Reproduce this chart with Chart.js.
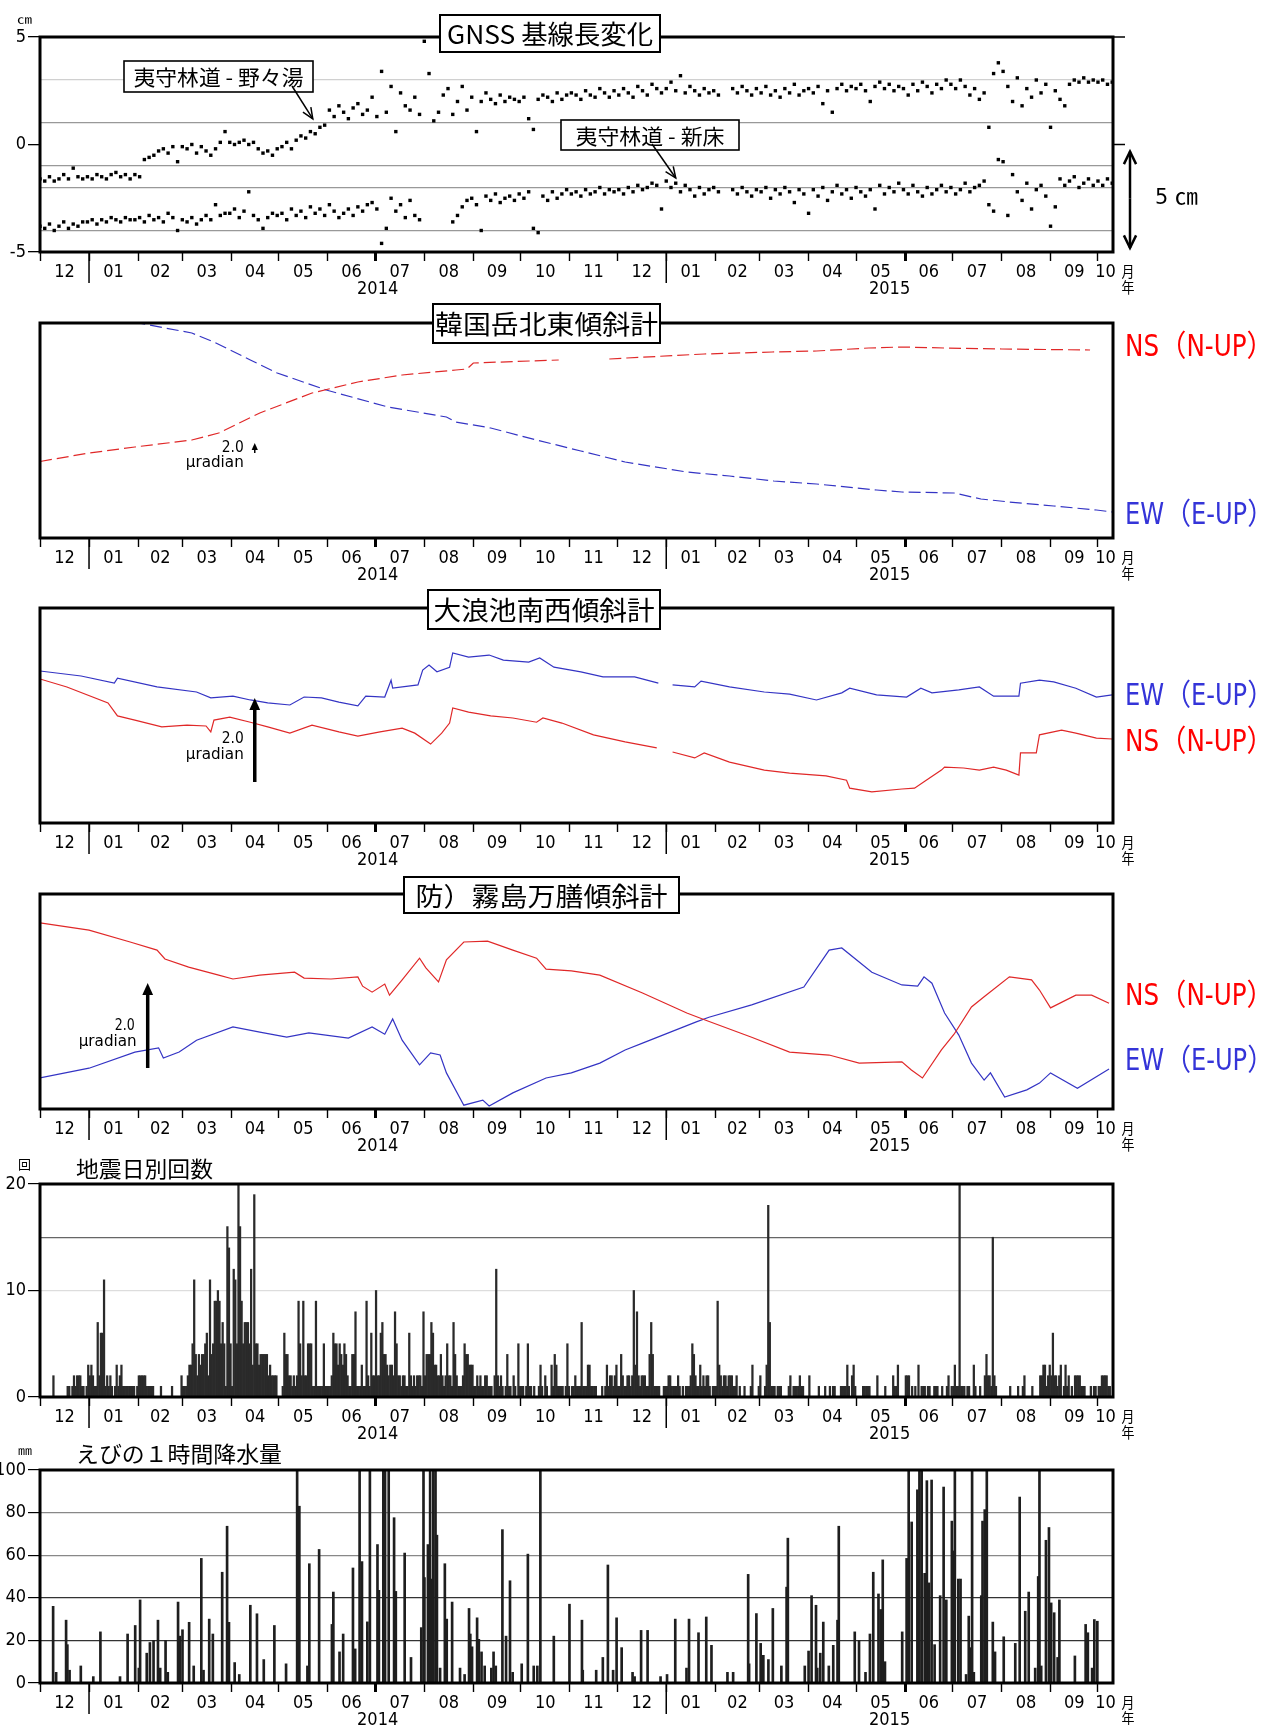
<!DOCTYPE html>
<html lang="ja">
<head>
<meta charset="utf-8">
<title>霧島山 観測データ</title>
<script src="https://cdn.jsdelivr.net/npm/chart.js@4.4.1/dist/chart.umd.min.js"></script>
<style>
  html, body { margin: 0; padding: 0; background: #fff; }
  body { position: relative; width: 1277px; height: 1725px; overflow: hidden; }
  canvas { position: absolute; left: 0; }
</style>
</head>
<body>
<canvas id="gnss" width="1277" height="300" style="top:0px"></canvas>
<canvas id="karakuni" width="1277" height="300" style="top:286px"></canvas>
<canvas id="onami" width="1277" height="300" style="top:571px"></canvas>
<canvas id="manzen" width="1277" height="300" style="top:857px"></canvas>
<canvas id="quake" width="1277" height="300" style="top:1147px"></canvas>
<canvas id="rain" width="1277" height="292" style="top:1433px"></canvas>
<script>
const NARROW = "'Liberation Sans Narrow', 'DejaVu Sans Condensed', 'Liberation Sans', 'Noto Sans CJK JP', sans-serif";
const CJK = "'Noto Sans CJK JP', 'Noto Sans CJK SC', sans-serif";
const RED = '#e02828';
const BLUE = '#3434c4';

// ---- x axis (days counted from 2013-12-01)
const monthLabels = ['12', '01', '02', '03', '04', '05', '06', '07', '08', '09', '10', '11',
                     '12', '01', '02', '03', '04', '05', '06', '07', '08', '09', '10'];
const yearLabels = ['2014', '2015'];
const axisEndDay = 678.5;

// ---- GNSS baseline length (cm), one reading every 3 days from 2013-12-01
const gnssStep = 3;
const nonoyu = [
  -1.6, -1.7, -1.5, -1.7, -1.6, -1.4, -1.6, -1.1, -1.5, -1.6,
  -1.5, -1.6, -1.4, -1.5, -1.6, -1.4, -1.3, -1.5, -1.4, -1.6,
  -1.4, -1.5, -0.7, -0.6, -0.5, -0.3, -0.2, -0.4, -0.1, -0.8,
  -0.1, -0.2, 0.0, -0.4, -0.1, -0.3, -0.5, -0.2, 0.1, 0.6,
  0.1, 0.0, 0.1, 0.2, 0.0, 0.1, -0.2, -0.4, -0.3, -0.5,
  -0.2, -0.1, 0.1, -0.2, 0.2, 0.4, 0.3, 0.6, 0.5, 0.8,
  0.9, 1.6, 1.3, 1.8, 1.5, 1.2, 1.7, 1.9, 1.4, 1.6,
  2.2, 1.3, 3.4, 1.5, 2.7, 0.6, 2.4, 1.8, 1.6, 2.2, 1.4,
  4.8, 3.3, 1.1, 1.5, 2.3, 2.6, 1.4, 2.0, 2.7, 1.6,
  2.2, 0.6, 2.0, 2.4, 2.1, 1.9, 2.3, 2.0, 2.2, 2.1,
  2.0, 2.2, 1.2, 0.7, 2.1, 2.3, 2.2, 2.0, 2.4, 2.1, 2.3,
  2.4, 2.3, 2.1, 2.5, 2.3, 2.2, 2.6, 2.4, 2.2, 2.5,
  2.3, 2.6, 2.4, 2.2, 2.7, 2.5, 2.3, 2.8, 2.6, 2.4,
  2.6, 2.9, 2.5, 3.2, 2.4, 2.7, 2.5, 2.3, 2.6, 2.4,
  2.5, 2.3, null, null, 2.6, 2.4, 2.7, 2.5, 2.3, 2.6,
  2.4, 2.7, 2.3, 2.5, 2.2, 2.6, 2.4, 2.8, 2.3, 2.5,
  2.6, 2.4, 2.7, 1.9, 2.5, 1.5, 2.6, 2.8, 2.5, 2.7,
  2.6, 2.8, 2.5, 2.0, 2.7, 2.9, 2.6, 2.8, 2.5, 2.7,
  2.6, 2.3, 2.8, 2.5, 2.9, 2.7, 2.4, 2.8, 2.6, 3.0,
  2.8, 2.6, 3.0, 2.7, 2.3, 2.6, 2.1, 2.4, 0.8, 3.3, 3.8,
  3.4, 2.7, 2.0, 3.1, 1.8, 2.6, 2.2, 3.0, 2.4, 2.8,
  0.8, 2.5, 2.1, 1.8, 2.8, 3.0, 2.9, 3.1, 2.9, 3.0,
  2.9, 3.0, 2.8, 2.9
];
const niidoko = [
  -3.8, -3.9, -3.7, -4.0, -3.8, -3.6, -3.9, -3.7, -3.8, -3.6,
  -3.6, -3.5, -3.7, -3.5, -3.6, -3.4, -3.5, -3.6, -3.4, -3.5,
  -3.5, -3.4, -3.6, -3.3, -3.5, -3.4, -3.6, -3.2, -3.4, -4.0,
  -3.5, -3.6, -3.4, -3.7, -3.5, -3.3, -3.5, -2.8, -3.3, -3.2,
  -3.2, -3.0, -3.4, -3.1, -2.2, -3.3, -3.5, -3.9, -3.4, -3.2,
  -3.3, -3.2, -3.5, -3.0, -3.3, -3.1, -3.4, -2.9, -3.2, -3.0,
  -3.3, -2.8, -3.1, -3.4, -3.2, -3.0, -3.3, -2.9, -3.1, -2.8,
  -2.7, -3.0, -4.6, -3.9, -2.5, -3.1, -2.8, -3.4, -2.6, -3.3, -3.5,
  null, null, null, null, null, null, -3.6, -3.3, -2.9, -2.6,
  -2.5, -2.8, -4.0, -2.4, -2.6, -2.3, -2.7, -2.5, -2.4, -2.6,
  -2.3, -2.5, -2.2, -3.9, -4.1, -2.4, -2.6, -2.2, -2.5, -2.3, -2.1,
  -2.3, -2.2, -2.4, -2.1, -2.3, -2.2, -2.0, -2.3, -2.1, -2.2,
  -2.1, -2.3, -2.0, -2.2, -1.9, -2.1, -2.0, -1.8, -1.9, -3.0,
  -1.7, -2.0, -1.8, -2.2, -1.9, -2.1, -2.4, -2.0, -2.3, -2.1,
  -2.0, -2.2, null, null, -2.1, -2.3, -2.0, -2.2, -2.4, -2.1,
  -2.2, -2.0, -2.5, -2.1, -2.3, -2.0, -2.2, -2.7, -2.1, -2.3,
  -3.2, -2.1, -2.4, -2.0, -2.6, -2.2, -1.9, -2.3, -2.1, -2.5,
  -2.0, -2.2, -2.4, -2.1, -3.0, -1.9, -2.3, -2.0, -2.2, -1.8,
  -2.1, -2.3, -1.9, -2.2, -2.4, -2.0, -2.3, -2.1, -1.9, -2.2,
  -2.0, -2.3, -2.1, -1.8, -2.2, -2.0, -1.9, -1.7, -2.8, -3.1, -0.7,
  -0.8, -3.3, -1.4, -2.2, -2.6, -1.8, -3.0, -2.1, -1.9, -2.4,
  -3.8, -2.9, -1.6, -1.9, -1.7, -1.5, -2.0, -1.8, -1.6, -1.9,
  -1.7, -1.9, -1.6, -1.8
];
const gnssGridLines = [3, 1, -1, -2, -4];
const gnssTickLabels = [-5, 0, 5];

// ---- 韓国岳北東傾斜計 (μradian, arbitrary origin)
const karakuniNsDays = [0, 31, 60, 96, 113, 139, 172, 201, 229, 263, 270, 274, 328, 344, 360, 371, 420, 463, 491, 524, 545, 572, 608, 664];
const karakuniNsVals = [15.3, 17.0, 18.2, 19.6, 21.0, 25.0, 29.0, 31.2, 32.6, 33.6, 33.8, 35.0, 35.6, null, 35.8, 36.0, 36.8, 37.2, 37.4, 38.0, 38.2, 38.0, 37.8, 37.6];
const karakuniEwDays = [40, 64, 96, 110, 133, 150, 181, 220, 257, 263, 285, 314, 342, 370, 409, 436, 464, 491, 529, 545, 578, 595, 613, 641, 668, 678];
const karakuniEwVals = [46.5, 42.9, 41.0, 39.2, 35.6, 33.0, 29.6, 26.2, 24.2, 23.2, 22.0, 19.6, 17.4, 15.2, 13.2, 12.4, 11.4, 10.8, 9.6, 9.2, 9.0, 7.8, 7.2, 6.4, 5.6, 5.2];

// ---- 大浪池南西傾斜計
const onamiEwDays = [0, 26, 47, 49, 74, 99, 108, 122, 133, 144, 158, 167, 178, 189, 201, 206, 218, 222, 223, 239,
  242, 246, 251, 259, 261, 271, 284, 293, 309, 316, 325, 342, 356, 376, 391, 395, 400, 414, 418, 436,
  458, 474, 491, 507, 512, 529, 548, 557, 564, 581, 594, 603, 619, 620, 632, 641, 655, 668, 678];
const onamiEwVals = [3.62, 3.50, 3.33, 3.45, 3.24, 3.12, 2.98, 3.02, 2.93, 2.86, 2.81, 3.00, 2.98, 2.88, 2.79, 3.02, 3.00, 3.40, 3.21, 3.29,
  3.64, 3.76, 3.60, 3.71, 4.05, 3.95, 4.00, 3.88, 3.83, 3.93, 3.71, 3.60, 3.48, 3.48, 3.33, null, 3.29, 3.24, 3.38, 3.24,
  3.12, 3.07, 2.93, 3.10, 3.21, 3.05, 3.00, 3.21, 3.10, 3.17, 3.24, 3.02, 3.02, 3.33, 3.40, 3.36, 3.21, 3.00, 3.05];
const onamiNsDays = [0, 17, 43, 49, 60, 77, 93, 105, 108, 110, 120, 133, 144, 158, 172, 189, 201, 215, 229, 237,
  247, 254, 259, 261, 271, 285, 299, 314, 318, 330, 350, 370, 390, 395, 400, 414, 420, 436, 458, 474,
  497, 510, 512, 526, 545, 553, 559, 570, 572, 584, 594, 603, 611, 619, 620, 630, 632, 646, 655, 668, 678];
const onamiNsVals = [3.43, 3.24, 2.86, 2.55, 2.45, 2.29, 2.33, 2.31, 2.17, 2.45, 2.52, 2.40, 2.29, 2.14, 2.33, 2.17, 2.07, 2.17, 2.26, 2.14,
  1.88, 2.14, 2.38, 2.74, 2.64, 2.55, 2.50, 2.40, 2.50, 2.38, 2.10, 1.93, 1.79, null, 1.69, 1.55, 1.67, 1.45, 1.26, 1.19,
  1.12, 1.02, 0.83, 0.74, 0.81, 0.83, 0.98, 1.26, 1.33, 1.31, 1.26, 1.33, 1.26, 1.14, 1.67, 1.67, 2.10, 2.21, 2.14, 2.02, 2.00];

// ---- 防）霧島万膳傾斜計
const manzenNsDays = [0, 31, 57, 74, 79, 94, 113, 122, 139, 161, 167, 184, 201, 204, 210, 218, 221, 229, 240, 244,
  252, 257, 268, 283, 299, 314, 320, 336, 354, 381, 409, 421, 450, 474, 499, 518, 545, 551, 558, 570,
  578, 589, 597, 613, 627, 632, 639, 655, 665, 676];
const manzenNsVals = [4.38, 4.21, 3.93, 3.74, 3.53, 3.34, 3.15, 3.06, 3.15, 3.22, 3.08, 3.06, 3.11, 2.89, 2.75, 2.94, 2.68, 3.04, 3.55, 3.32,
  2.99, 3.51, 3.93, 3.95, 3.74, 3.55, 3.29, 3.25, 3.15, 2.73, 2.26, 2.09, 1.69, 1.34, 1.27, 1.08, 1.11, 0.92, 0.73, 1.39,
  1.76, 2.40, 2.64, 3.11, 3.04, 2.80, 2.38, 2.68, 2.68, 2.49];
const manzenEwDays = [0, 31, 60, 75, 78, 88, 99, 122, 139, 156, 170, 195, 210, 218, 223, 229, 240, 247, 253, 257,
  268, 280, 284, 299, 320, 336, 354, 370, 381, 415, 423, 450, 483, 499, 507, 526, 545, 555, 559, 564,
  572, 581, 589, 597, 601, 610, 624, 632, 639, 656, 676];
const manzenEwVals = [0.73, 0.96, 1.34, 1.44, 1.20, 1.34, 1.62, 1.93, 1.81, 1.69, 1.79, 1.67, 1.93, 1.76, 2.12, 1.62, 1.04, 1.32, 1.27, 0.85,
  0.09, 0.21, 0.07, 0.38, 0.73, 0.85, 1.08, 1.39, 1.55, 2.05, 2.16, 2.45, 2.87, 3.74, 3.79, 3.22, 2.92, 2.89, 3.11, 2.96,
  2.26, 1.74, 1.08, 0.68, 0.85, 0.28, 0.45, 0.61, 0.85, 0.49, 0.94];

// ---- 地震日別回数 (daily count, one value per day from 2013-12-01)
const quakeCounts = [
  0,0,0,0,0,0,0,0,2,0, 0,0,0,0,0,0,0,1,1,0, 1,2,1,2,2,2,1,1,0,1, 3,          // 2013-12
  2,3,2,1,1,7,2,6,6,11, 1,2,1,2,1,0,1,3,1,2, 3,1,1,1,1,1,1,1,1,0, 1,        // 01
  2,2,2,2,2,1,1,1,1,1, 0,0,0,0,1,0,0,0,0,0, 0,1,0,0,0,0,0,2,                // 02
  1,1,1,2,3,3,5,11,4,2, 4,3,4,4,5,6,2,11,4,5, 9,9,10,9,5,7,5,1,16,14, 5,    // 03
  1,12,11,5,22,16,9,5,7,7, 7,5,12,3,19,5,5,3,4,4, 4,4,4,2,3,2,2,2,2,0,      // 04
  0,0,1,6,4,4,2,2,1,2, 1,2,9,5,2,9,2,2,5,5, 5,1,1,9,1,1,1,1,5,1, 1,         // 05
  1,1,2,6,5,5,3,5,4,3, 5,4,2,1,1,4,4,8,1,1, 1,3,1,1,9,2,1,6,2,2,            // 06
  10,2,2,6,7,4,4,3,2,3, 3,2,8,5,2,2,1,2,2,1, 1,6,2,1,2,1,2,2,2,1, 8,        // 07
  2,4,4,4,7,6,3,3,2,2, 4,2,1,2,5,2,2,1,7,4, 2,1,1,1,2,5,4,4,3,3, 3,         // 08
  1,1,2,1,2,1,1,2,2,1, 1,1,0,2,12,2,1,2,1,0, 1,4,1,1,0,2,1,0,5,1,           // 09
  1,1,0,1,5,1,1,0,1,0, 0,1,3,1,0,2,1,0,0,3, 1,4,3,1,1,1,1,0,1,5, 1,         // 10
  0,1,1,2,1,1,1,7,1,1, 1,3,3,1,1,1,1,0,0,0, 1,0,1,3,1,2,2,1,2,3,            // 11
  1,1,4,2,1,1,2,2,1,2, 10,3,8,2,1,2,2,2,1,1, 4,7,4,1,1,1,1,0,0,1, 1,        // 12
  1,2,2,1,1,1,1,2,1,0, 1,0,1,1,1,2,5,4,2,1, 1,3,1,2,1,2,2,1,0,1, 1,         // 2015-01
  1,9,3,2,1,2,2,1,2,2, 2,1,1,2,0,1,0,0,1,0, 0,0,1,3,0,0,0,1,                // 02
  2,0,0,1,3,18,7,1,1,1, 0,1,1,1,0,0,0,0,1,2, 0,1,1,1,1,2,1,1,0,0, 0,        // 03
  2,0,0,0,0,0,1,0,0,0, 1,0,0,1,0,1,1,0,0,0, 1,1,1,1,3,1,0,2,3,1,            // 04
  0,0,0,0,1,1,1,1,1,0, 0,0,0,2,0,0,0,0,1,0, 0,0,0,2,1,1,3,0,0,0, 0,         // 05
  2,2,2,0,1,0,1,0,3,0, 1,1,1,0,1,1,0,0,1,1, 1,0,0,1,0,0,1,2,0,1,            // 06
  1,3,1,1,22,1,1,1,0,1, 1,0,0,3,1,0,0,1,0,0, 2,4,2,2,1,15,2,1,0,0, 0,       // 07
  0,0,0,0,0,1,0,0,0,0, 1,0,0,1,2,0,0,0,0,1, 0,0,0,0,2,2,3,3,1,2, 3,         // 08
  2,6,2,2,1,2,3,0,1,3, 1,2,0,1,0,2,2,2,2,1, 1,1,0,0,0,1,0,1,1,0,            // 09
  1,1,2,2,2,2,1,1,0,0                                                      // 10
];

// ---- えびの 1時間降水量 (mm); day of each hourly reading, counted from 2013-12-01
const rainDays = [
  8.3, 10.2, 16.5, 17.3, 18.7, 25.8, 33.7, 38.2, 50.6, 55.4,
  60.2, 62.5, 63.3, 67.5, 69.5, 71.8, 74.6, 76.0, 79.4, 80.8,
  87.3, 88.4, 90.1, 94.3, 97.2, 102.0, 103.4, 107.0, 109.3, 115.2,
  118.3, 119.5, 123.1, 126.0, 133.0, 137.2, 141.5, 148.2, 155.6, 162.6,
  164.0, 169.1, 170.3, 176.5, 184.6, 185.5, 189.4, 191.7, 197.9, 199.3,
  202.1, 203.6, 207.0, 208.6, 213.4, 214.3, 217.1, 218.2, 220.5, 223.9,
  225.0, 230.6, 234.6, 241.1, 242.5, 243.1, 245.3, 246.7, 247.3, 248.7,
  250.1, 251.0, 253.0, 256.0, 257.2, 260.6, 265.6, 268.5, 271.3, 272.1,
  273.2, 276.4, 277.5, 279.2, 281.2, 285.4, 286.8, 288.2, 292.4, 294.7,
  297.2, 298.9, 304.6, 308.5, 312.2, 314.5, 316.4, 324.9, 334.8, 342.7,
  343.2, 351.7, 355.9, 359.1, 362.4, 364.6, 367.8, 374.7, 376.0, 380.1,
  384.2, 392.4, 396.5, 401.7, 408.8, 410.4, 416.4, 421.3, 424.6, 434.7,
  438.3, 447.8, 448.4, 453.0, 455.7, 457.4, 460.6, 463.4, 468.8, 472.1,
  472.9, 483.6, 486.0, 487.9, 490.7, 491.5, 493.4, 495.3, 498.8, 501.6,
  504.3, 505.1, 515.2, 517.9, 522.0, 524.8, 526.9, 530.2, 531.6, 532.9,
  534.3, 545.2, 548.0, 549.3, 551.2, 554.8, 555.6, 556.1, 557.5, 559.4,
  560.8, 562.1, 563.8, 565.7, 569.2, 571.4, 573.1, 576.6, 577.4, 578.5,
  580.7, 582.1, 585.6, 587.3, 588.3, 589.4, 590.5, 595.2, 596.0, 597.4,
  598.7, 602.5, 603.9, 609.4, 616.7, 619.5, 623.0, 625.2, 629.3, 631.2,
  632.0, 633.1, 636.1, 638.0, 639.4, 641.3, 643.5, 644.6, 654.4, 661.2,
  662.6, 665.3, 666.7, 668.6
];
const rainMm = [
  36, 5, 29.5, 18, 6, 8, 3, 24, 3, 23,
  27, 7, 39, 14, 19, 20, 29.5, 7, 20, 5,
  38, 22, 25, 28.5, 8, 58.5, 6, 30, 23, 52,
  73.6, 28.5, 9.6, 4, 36.5, 32.5, 11, 27, 9, 110,
  83, 8, 56, 62.7, 27.5, 42.7, 14.6, 23, 54, 16,
  110, 57, 28.7, 110, 65, 43.5, 110, 110, 110, 77.6,
  43, 61, 12, 26, 110, 49.5, 65, 110, 48.8, 110,
  110, 69.4, 7, 56, 30, 38, 7, 4, 35, 23,
  17, 30.6, 20.5, 14.6, 8, 7, 14.6, 8, 72, 22,
  48, 5, 9, 60.5, 8, 8, 110, 22, 37, 29.5,
  6, 6, 12, 55.4, 6, 30.6, 16.6, 5, 3, 24.7,
  24.7, 3, 4, 30, 7, 30, 23.6, 31, 17.7, 5,
  5, 51, 9, 32.6, 18.6, 13, 11, 35, 8, 45,
  68, 8, 15, 41, 36.5, 7, 14, 28.6, 8, 17.7,
  29.5, 73.6, 24, 20, 5, 23, 52, 41.8, 34.5, 57.8,
  10, 24, 58.5, 110, 75.6, 90.7, 57.8, 110, 110, 51.5,
  95, 47, 95.3, 18, 41, 92, 39, 76, 62, 110,
  48.8, 48.8, 4, 31.4, 16.6, 110, 5, 41, 76, 81.4,
  110, 28.6, 14.6, 21.7, 18.6, 87.3, 33.7, 42.7, 7, 50,
  110, 8, 67, 73, 37.6, 33, 12, 39, 12.7, 27.5,
  23.6, 7, 29.8, 29
];

// ---------------------------------------------------------------- layout
const PLOT_LEFT = 40, PLOT_RIGHT = 1113, PAD_TOP = 37;

const T0 = Date.UTC(2013, 11, 1);
const toDay = (y, m, d) => (Date.UTC(y, m, d) - T0) / 864e5;
const monthStarts = monthLabels.map((_, i) => toDay(2013, 11 + i, 1));
const yearCenters = yearLabels.map(y => {
  const a = Math.max(0, toDay(+y, 0, 1));
  const b = Math.min(axisEndDay, toDay(+y + 1, 0, 1));
  return (a + b) / 2;
});
const boldStarts = yearCenters.map(c =>
  monthStarts.reduce((best, d) => Math.abs(d - c) < Math.abs(best - c) ? d : best, monthStarts[0]));
const januaryStarts = monthStarts.filter((d, i) => monthLabels[i] === '01');

function buildXTicks() {
  const t = [];
  monthStarts.forEach((d, i) => {
    t.push({ value: d, kind: 'b', bold: boldStarts.includes(d), lab: '' });
    const end = Math.min(i + 1 < monthStarts.length ? monthStarts[i + 1] : axisEndDay, axisEndDay);
    t.push({ value: (d + end) / 2, kind: 'm', lab: monthLabels[i] });
  });
  yearLabels.forEach((y, i) => t.push({ value: yearCenters[i], kind: 'y', lab: ['', y] }));
  return t.sort((a, b) => a.value - b.value);
}

function xAxis(height) {
  return {
    type: 'linear', min: 0, max: axisEndDay, offset: false,
    afterBuildTicks: s => { s.ticks = buildXTicks(); },
    afterFit: s => { s.height = height; },
    border: { display: false },
    grid: {
      offset: false, drawOnChartArea: false, drawTicks: true, tickLength: 9,
      tickColor: c => (c.tick && c.tick.kind === 'b') ? '#000' : 'rgba(0,0,0,0)',
      tickWidth: c => (c.tick && c.tick.bold) ? 3 : 1.4
    },
    ticks: {
      autoSkip: false, maxRotation: 0, minRotation: 0, padding: 3, color: '#000',
      font: { family: NARROW, size: 18, lineHeight: 0.95 },
      callback: (v, i, t) => t[i].lab
    }
  };
}

function pts(days, vals) { return days.map((d, i) => ({ x: d, y: vals[i] })); }

// ---------------------------------------------------------------- drawing helpers
function fitText(ctx, text, x, y, w, px, family, color, align) {
  ctx.save();
  ctx.font = px + 'px ' + family;
  ctx.fillStyle = color;
  ctx.textBaseline = 'middle';
  ctx.textAlign = align || 'left';
  const s = w / ctx.measureText(text).width;
  ctx.translate(x, y);
  ctx.scale(s, 1);
  ctx.fillText(text, 0, 0);
  ctx.restore();
}

function textBox(ctx, text, x0, y0, x1, y1, textW, px, lw) {
  ctx.save();
  ctx.fillStyle = '#fff';
  ctx.fillRect(x0, y0, x1 - x0, y1 - y0);
  ctx.strokeStyle = '#000';
  ctx.lineWidth = lw;
  ctx.strokeRect(x0, y0, x1 - x0, y1 - y0);
  ctx.restore();
  fitText(ctx, text, (x0 + x1) / 2, (y0 + y1) / 2 + 1, textW, px, CJK, '#000', 'center');
}

function arrowTo(ctx, x0, y0, x1, y1, head, spread, filled) {
  const ang = Math.atan2(y1 - y0, x1 - x0);
  ctx.beginPath(); ctx.moveTo(x0, y0); ctx.lineTo(x1, y1); ctx.stroke();
  const a1 = ang + Math.PI - spread, a2 = ang + Math.PI + spread;
  ctx.beginPath();
  ctx.moveTo(x1 + head * Math.cos(a1), y1 + head * Math.sin(a1));
  ctx.lineTo(x1, y1);
  ctx.lineTo(x1 + head * Math.cos(a2), y1 + head * Math.sin(a2));
  if (filled) { ctx.closePath(); ctx.fill(); } else { ctx.stroke(); }
}

function commonDecor(chart) {
  const ctx = chart.ctx, a = chart.chartArea, x = chart.scales.x;
  ctx.save();
  ctx.strokeStyle = '#000';
  ctx.lineWidth = 3;
  ctx.strokeRect(a.left, a.top, a.right - a.left, a.bottom - a.top);
  ctx.lineWidth = 1.5;
  januaryStarts.forEach(d => {
    const px = x.getPixelForValue(d);
    ctx.beginPath(); ctx.moveTo(px, a.bottom); ctx.lineTo(px, a.bottom + 31); ctx.stroke();
  });
  ctx.restore();
  fitText(ctx, '月', 1128, a.bottom + 19, 13, 15, CJK, '#000', 'center');
  fitText(ctx, '年', 1128, a.bottom + 35, 13, 15, CJK, '#000', 'center');
}

function scaleArrow(chart, d, v0, v1, style) {
  const ctx = chart.ctx, x = chart.scales.x, y = chart.scales.y;
  const px = x.getPixelForValue(d), yb = y.getPixelForValue(v0), yt = y.getPixelForValue(v1);
  ctx.save();
  ctx.strokeStyle = '#000';
  ctx.fillStyle = '#000';
  ctx.lineWidth = style.lw;
  ctx.beginPath(); ctx.moveTo(px, yb); ctx.lineTo(px, yt + style.head * 0.6); ctx.stroke();
  ctx.beginPath();
  ctx.moveTo(px, yt);
  ctx.lineTo(px - style.head * 0.45, yt + style.head);
  ctx.lineTo(px + style.head * 0.45, yt + style.head);
  ctx.closePath(); ctx.fill();
  ctx.restore();
  fitText(ctx, '2.0', style.textRight(px), yt + style.dy1, style.w1, 15, NARROW, '#000', 'right');
  fitText(ctx, 'μradian', style.textRight(px) + style.dx2, yt + style.dy2, 58, 15, NARROW, '#000', 'right');
}

function sideLabel(ctx, text, yCenter, color) {
  fitText(ctx, text, 1125, yCenter, 149, 30, NARROW, color, 'left');
}

function makeChart(id, top, plotH, type, datasets, yScale, extras) {
  const canvas = document.getElementById(id);
  return new Chart(canvas, {
    type,
    data: { datasets },
    options: {
      responsive: false, animation: false, devicePixelRatio: 1, events: [],
      layout: { padding: { left: 0, right: 1277 - PLOT_RIGHT, top: PAD_TOP, bottom: 0 } },
      plugins: { legend: { display: false }, tooltip: { enabled: false } },
      scales: {
        x: xAxis(canvas.height - PAD_TOP - plotH),
        y: Object.assign({ position: 'left', afterFit: s => { s.width = PLOT_LEFT; } }, yScale)
      }
    },
    plugins: [{
      id: 'decor',
      afterDraw(chart) { commonDecor(chart); extras(chart, chart.ctx, top); }
    }]
  });
}

const hiddenY = (max) => ({
  min: 0, max, ticks: { display: false }, grid: { display: false }, border: { display: false }
});
const lineSet = (data, color, dash) => ({
  type: 'line', data, borderColor: color, borderWidth: 1.2, pointRadius: 0,
  tension: 0, spanGaps: false, clip: 0, borderDash: dash || []
});

// ---------------------------------------------------------------- 1. GNSS
makeChart('gnss', 0, 215, 'scatter', [
  { data: nonoyu.map((v, i) => ({ x: i * gnssStep, y: v })), pointStyle: 'rect', pointRadius: 2.4,
    backgroundColor: '#000', borderWidth: 0, showLine: false, clip: 0 },
  { data: niidoko.map((v, i) => ({ x: i * gnssStep, y: v })), pointStyle: 'rect', pointRadius: 2.4,
    backgroundColor: '#000', borderWidth: 0, showLine: false, clip: 0 }
], {
  min: -5, max: 5,
  afterBuildTicks: s => { s.ticks = gnssTickLabels.concat(gnssGridLines).sort((a, b) => a - b).map(v => ({ value: v })); },
  border: { display: false },
  grid: {
    drawTicks: true, tickLength: 12, lineWidth: 1.3,
    color: c => gnssGridLines.includes(c.tick.value) ? (c.tick.value === 3 ? '#d0d0d0' : '#999') : 'rgba(0,0,0,0)',
    tickColor: c => gnssTickLabels.includes(c.tick.value) ? '#000' : 'rgba(0,0,0,0)'
  },
  ticks: { padding: 2, color: '#000', font: { family: NARROW, size: 18 },
           callback: v => gnssTickLabels.includes(v) ? String(v) : '' }
}, (chart, ctx, top) => {
  const a = chart.chartArea, x = chart.scales.x, y = chart.scales.y;
  textBox(ctx, 'GNSS 基線長変化', 440, 15 - top, 660, 52 - top, 206, 26, 2);
  textBox(ctx, '夷守林道 - 野々湯', 124, 61 - top, 313, 92 - top, 170, 21, 1.6);
  textBox(ctx, '夷守林道 - 新床', 561, 120 - top, 739, 150 - top, 149, 21, 1.6);
  ctx.save();
  ctx.strokeStyle = '#000';
  ctx.lineWidth = 1.5;
  arrowTo(ctx, 292, 86 - top, x.getPixelForValue(172.5), y.getPixelForValue(1.19), 12, 0.4, false);
  arrowTo(ctx, 652, 144 - top, x.getPixelForValue(402), y.getPixelForValue(-1.56), 12, 0.4, false);
  [5, 0].forEach(v => {
    const py = y.getPixelForValue(v);
    ctx.beginPath(); ctx.moveTo(a.right, py); ctx.lineTo(a.right + 12, py); ctx.stroke();
  });
  const ax = a.right + 17, ym = y.getPixelForValue(-2.5);
  ctx.lineWidth = 2.5;
  arrowTo(ctx, ax, ym, ax, y.getPixelForValue(0) + 7, 14, 0.45, false);
  arrowTo(ctx, ax, ym, ax, y.getPixelForValue(-5) - 4, 14, 0.45, false);
  ctx.restore();
  fitText(ctx, '5 ㎝', 1155, ym, 43, 22, NARROW, '#000', 'left');
  fitText(ctx, '㎝', 17, 20 - top, 15, 11, CJK, '#000', 'left');
});

// ---------------------------------------------------------------- 2. 韓国岳北東傾斜計
makeChart('karakuni', 286, 215, 'line', [
  lineSet(pts(karakuniNsDays, karakuniNsVals), RED, [12, 5]),
  lineSet(pts(karakuniEwDays, karakuniEwVals), BLUE, [12, 5])
], hiddenY(43), (chart, ctx, top) => {
  textBox(ctx, '韓国岳北東傾斜計', 433, 304 - top, 660, 343 - top, 223, 26, 2);
  sideLabel(ctx, 'NS（N-UP）', 348 - top, '#ff0000');
  sideLabel(ctx, 'EW（E-UP）', 516 - top, '#3434d8');
  scaleArrow(chart, 135.8, 17.0, 19.0, { lw: 1.5, head: 7, w1: 22, dy1: 5, dy2: 20, dx2: 0,
    textRight: px => px - 11 });
});

// ---------------------------------------------------------------- 3. 大浪池南西傾斜計
makeChart('onami', 571, 215, 'line', [
  lineSet(pts(onamiEwDays, onamiEwVals), BLUE),
  lineSet(pts(onamiNsDays, onamiNsVals), RED)
], hiddenY(5.12), (chart, ctx, top) => {
  textBox(ctx, '大浪池南西傾斜計', 428, 590 - top, 660, 629 - top, 221, 26, 2);
  sideLabel(ctx, 'EW（E-UP）', 697 - top, '#3434d8');
  sideLabel(ctx, 'NS（N-UP）', 743 - top, '#ff0000');
  scaleArrow(chart, 135.8, 0.976, 2.976, { lw: 3.5, head: 12, w1: 22, dy1: 41, dy2: 57, dx2: 0,
    textRight: px => px - 11 });
});

// ---------------------------------------------------------------- 4. 防）霧島万膳傾斜計
makeChart('manzen', 857, 215, 'line', [
  lineSet(pts(manzenNsDays, manzenNsVals), RED),
  lineSet(pts(manzenEwDays, manzenEwVals), BLUE)
], hiddenY(5.06), (chart, ctx, top) => {
  textBox(ctx, '防）霧島万膳傾斜計', 404, 877 - top, 679, 913 - top, 252, 26, 2);
  sideLabel(ctx, 'NS（N-UP）', 997 - top, '#ff0000');
  sideLabel(ctx, 'EW（E-UP）', 1062 - top, '#3434d8');
  scaleArrow(chart, 68.1, 0.965, 2.965, { lw: 3.5, head: 12, w1: 20, dy1: 43, dy2: 59, dx2: 2,
    textRight: px => px - 13 });
});

// ---------------------------------------------------------------- 5. 地震日別回数
const quakeTicks = [0, 10, 15, 20];
makeChart('quake', 1147, 213, 'bar', [
  { data: quakeCounts.map((c, i) => ({ x: i + 0.5, y: c })), backgroundColor: '#2a2a2a',
    barThickness: 1.6, clip: 0 }
], {
  min: 0, max: 20,
  afterBuildTicks: s => { s.ticks = quakeTicks.map(v => ({ value: v })); },
  border: { display: false },
  grid: {
    offset: false, drawTicks: true, tickLength: 12, lineWidth: 1.2,
    color: c => c.tick.value === 15 ? '#666' : (c.tick.value === 10 ? '#ddd' : 'rgba(0,0,0,0)'),
    tickColor: c => c.tick.value === 15 ? 'rgba(0,0,0,0)' : '#000'
  },
  ticks: { padding: 2, color: '#000', font: { family: NARROW, size: 18 },
           callback: v => v === 15 ? '' : String(v) }
}, (chart, ctx, top) => {
  fitText(ctx, '回', 18, 1164 - top, 13, 13, CJK, '#000', 'left');
  fitText(ctx, '地震日別回数', 76, 1169 - top, 137, 22, CJK, '#000', 'left');
});

// ---------------------------------------------------------------- 6. えびの１時間降水量
makeChart('rain', 1433, 213, 'bar', [
  { data: rainDays.map((d, i) => ({ x: d, y: rainMm[i] })), backgroundColor: '#1e1e1e',
    barThickness: 2, clip: 0 }
], {
  min: 0, max: 100,
  afterBuildTicks: s => { s.ticks = [0, 20, 40, 60, 80, 100].map(v => ({ value: v })); },
  border: { display: false },
  grid: {
    offset: false, drawTicks: true, tickLength: 12, lineWidth: 1.2,
    color: c => (c.tick.value === 20 || c.tick.value === 40) ? '#333' :
                ((c.tick.value === 60 || c.tick.value === 80) ? '#888' : 'rgba(0,0,0,0)'),
    tickColor: '#000'
  },
  ticks: { padding: 2, color: '#000', font: { family: NARROW, size: 18 }, callback: v => String(v) }
}, (chart, ctx, top) => {
  fitText(ctx, '㎜', 18, 1451 - top, 14, 11, CJK, '#000', 'left');
  fitText(ctx, 'えびの１時間降水量', 76, 1454 - top, 206, 22, CJK, '#000', 'left');
});
</script>
</body>
</html>
